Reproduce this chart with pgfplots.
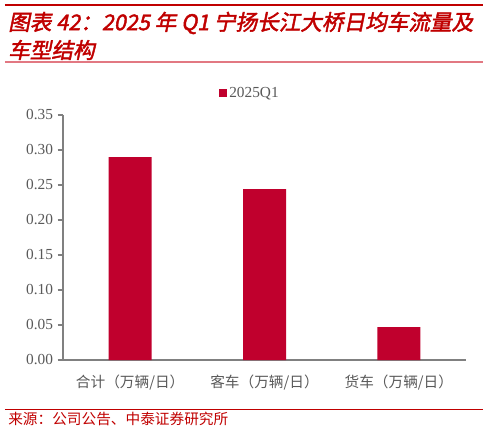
\documentclass[border=0pt]{standalone}
\usepackage{fontspec}
\usepackage{pgfplots}
\pgfplotsset{compat=1.18}
\setmainfont{Liberation Serif}
\newfontfamily\cjk{Noto Sans CJK SC}
\newfontfamily\cjkti[FakeSlant=0.2,FakeBold=2]{Noto Sans CJK SC}
\definecolor{barred}{RGB}{192,0,45}
\definecolor{titred}{RGB}{192,0,0}
\definecolor{pinkline}{RGB}{226,120,130}
\definecolor{axgray}{RGB}{128,128,128}
\definecolor{txtgray}{RGB}{89,89,89}
\begin{document}
\begin{tikzpicture}
\begin{scope}[x=0.75pt,y=0.75pt]
\useasboundingbox (-63,-73) rectangle (425,360);
\end{scope}
\begin{axis}[
  at={(0,0)}, anchor=south west,
  scale only axis,
  width=302.25pt, height=183.75pt,
  xmin=-0.5, xmax=2.5,
  ymin=0, ymax=0.35,
  ytick={0,0.05,0.1,0.15,0.2,0.25,0.3,0.35},
  yticklabel style={/pgf/number format/fixed,/pgf/number format/fixed zerofill,/pgf/number format/precision=2,/pgf/number format/assume math mode=true,font=\fontsize{11.5}{13}\selectfont,text=txtgray},
  xtick={0,1,2},
  xticklabels={合计（万辆/日）,客车（万辆/日）,货车（万辆/日）},
  xticklabel style={font=\cjk\fontsize{11}{12}\selectfont,text=txtgray,yshift=-4pt},
  extra x ticks={-0.5,0.5,1.5,2.5},
  extra x tick labels={},
  extra x tick style={major tick length=4pt,tick style={axgray,line width=0.8pt}},
  major x tick style={draw=none},
  axis x line*=bottom, axis y line*=left,
  axis line style={axgray,line width=0.8pt},
  y axis line style={-},x axis line style={-},
  tick align=outside,
  ytick style={axgray,line width=0.8pt},
  major tick length=4pt,
  ybar, bar width=32.25pt,
  legend style={draw=none,at={(0.464,1.09)},anchor=center,font=\fontsize{11.5}{13}\selectfont,text=txtgray,inner sep=1pt},
  legend image code/.code={\fill[barred] (0pt,-3pt) rectangle (6pt,3pt);},
  clip=false,
]
\addplot[fill=barred,draw=none] coordinates {(0,0.290) (1,0.244) (2,0.047)};
\legend{2025Q1}
\end{axis}
\begin{scope}[x=0.75pt,y=0.75pt]
\draw[titred,line width=1.6pt] (-58,355) -- (420,355);
\node[anchor=west,inner sep=0,text=titred,font=\cjkti\fontsize{16.2}{18}\selectfont] at (-55,337) {图表 42：2025 年 Q1 宁扬长江大桥日均车流量及};
\node[anchor=west,inner sep=0,text=titred,font=\cjkti\fontsize{16.2}{18}\selectfont] at (-55,310) {车型结构};
\draw[pinkline,line width=1.2pt] (-58,298) -- (420,298);
\draw[titred,line width=0.6pt] (-58,-49) -- (420,-49);
\node[anchor=west,inner sep=0,text=titred,font=\cjk\fontsize{11}{13}\selectfont] at (-55,-59) {来源：公司公告、中泰证券研究所};
\end{scope}
\end{tikzpicture}
\end{document}
